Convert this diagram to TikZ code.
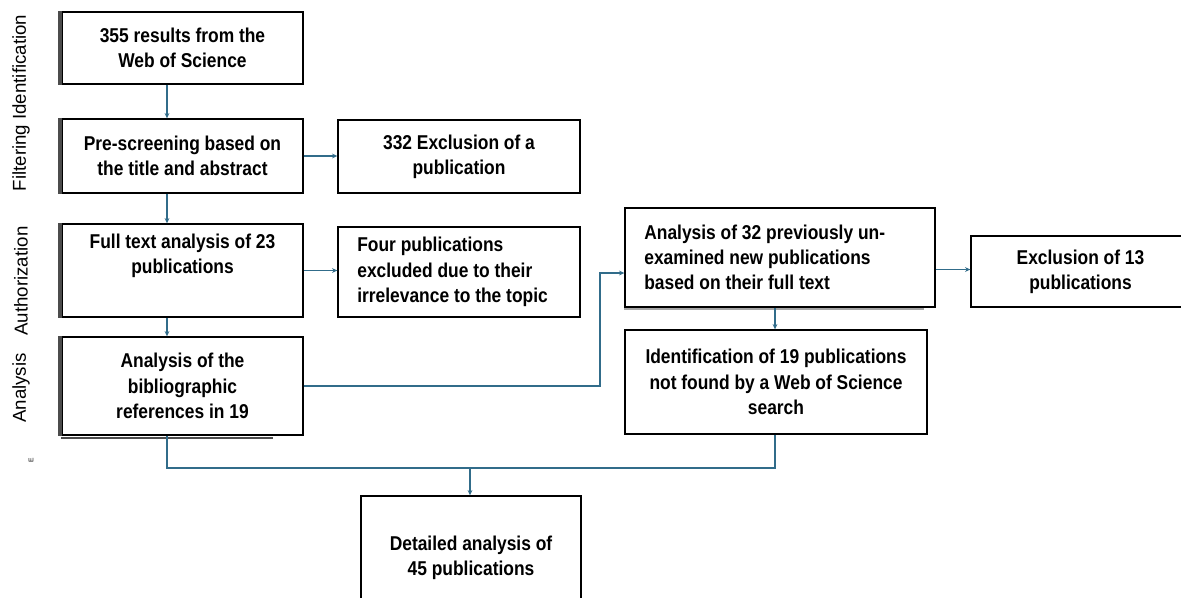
\documentclass[tikz,border=0pt]{standalone}
\usepackage{fontspec}
\setmainfont{Liberation Sans}
\newfontfamily\boxfont[FakeStretch=0.87]{Liberation Sans}
\usepackage{tikz}
\usetikzlibrary{arrows.meta, positioning}
\definecolor{linkblue}{RGB}{49,108,138}

\begin{document}
\begin{tikzpicture}[
    x=0.75pt, y=-0.75pt,
    stage/.style={rectangle, draw, line width=1pt, inner sep=0pt, align=center, font=\boxfont\bfseries\fontsize{15}{19}\selectfont}, % boxes of the flow
    note/.style={stage, align=flush left, inner xsep=14.5pt}, % boxes with left aligned text
    link/.style={draw=linkblue, line width=1.1pt},
    arrow/.style={link, -{Stealth[length=4pt, width=3.6pt]}},
    phase/.style={rotate=90, font=\fontsize{14}{16}\selectfont},
    edgebar/.style={line width=2.4pt, gray!60!black}
]
\useasboundingbox (0,0) rectangle (1181,597);

% Left column
\node[stage, minimum width=180.75pt, minimum height=54pt] (web) at (182.5,48) {355 results from the\\Web of Science};
\node[stage, minimum width=180.75pt, minimum height=55.5pt] (prescreen) at (182.5,156) {Pre-screening based on\\the title and abstract};
\node[stage, minimum width=180.75pt, minimum height=69.75pt] (fulltext) at (182.5,270.5) {Full text analysis of 23\\publications\\\strut};
\node[stage, minimum width=180.75pt, minimum height=73.5pt] (biblio) at (182.5,386) {Analysis of the\\bibliographic\\references in 19};

% Middle column
\node[stage, minimum width=181.5pt, minimum height=54.75pt] (excl332) at (459,156.5) {332 Exclusion of a\\publication};
\node[note, text width=152.5pt, minimum height=67.5pt] (four) at (459,272) {Four publications\\excluded due to their\\irrelevance to the topic};

% Right part
\node[note, text width=203.5pt, minimum height=74.25pt] (new32) at (780,257.5) {Analysis of 32 previously un-\\examined new publications\\based on their full text};
\node[stage, minimum width=164.25pt, minimum height=53.25pt] (excl13) at (1080.5,271.5) {Exclusion of 13\\publications};
\node[stage, minimum width=226.5pt, minimum height=78pt] (ident) at (776,382) {Identification of 19 publications\\not found by a Web of Science\\search};

% Bottom
\node[stage, minimum width=165pt, minimum height=93pt] (detailed) at (471,558) {Detailed analysis of\\45 publications};

% Phase labels
\node[phase] (ident-phase) at (21,103) {Filtering Identification};
\node[phase] (auth-phase) at (21,281) {Authorization};
\node[phase] (anal-phase) at (21,388) {Analysis};
\node[rotate=90, font=\fontsize{5}{6}\selectfont] (mark) at (31,460) {E};

% shadowed edges
\foreach \b in {web, prescreen, fulltext, biblio}
    \draw[edgebar] ([xshift=-1pt]\b.north west) -- ([xshift=-1pt]\b.south west);
\draw[edgebar, line width=1.6pt] ([yshift=-1.5pt]biblio.south west) -- ([xshift=-23pt,yshift=-1.5pt]biblio.south east);
\draw[edgebar, line width=1.2pt, gray!70] ([yshift=-1.2pt]new32.south west) -- ([xshift=-9pt,yshift=-1.2pt]new32.south east);

% helper points
\coordinate (spine) at (167,0);
\coordinate (rspine) at (775,0);
\coordinate (bend) at (600,273);
\coordinate (merge) at (470,468);

% Connections
\draw[arrow] (spine |- web.south) -- (spine |- prescreen.north);
\draw[arrow] (spine |- prescreen.south) -- (spine |- fulltext.north);
\draw[arrow] (spine |- fulltext.south) -- (spine |- biblio.north);
\draw[arrow] (prescreen.east) -- (prescreen.east -| excl332.west);
\draw[arrow] (fulltext.east) -- (fulltext.east -| four.west);
\draw[arrow] (biblio.east) -| (bend) -- (bend -| new32.west);
\draw[arrow] ([yshift=1.5pt]excl13.west -| new32.east) -- ([yshift=1.5pt]excl13.west);
\draw[arrow] (rspine |- new32.south) -- (rspine |- ident.north);

% joining at the bottom
\draw[link] (spine |- biblio.south) |- (merge);
\draw[link] (rspine |- ident.south) |- (merge);
\draw[arrow] (merge) -- (merge |- detailed.north);

\end{tikzpicture}
\end{document}
